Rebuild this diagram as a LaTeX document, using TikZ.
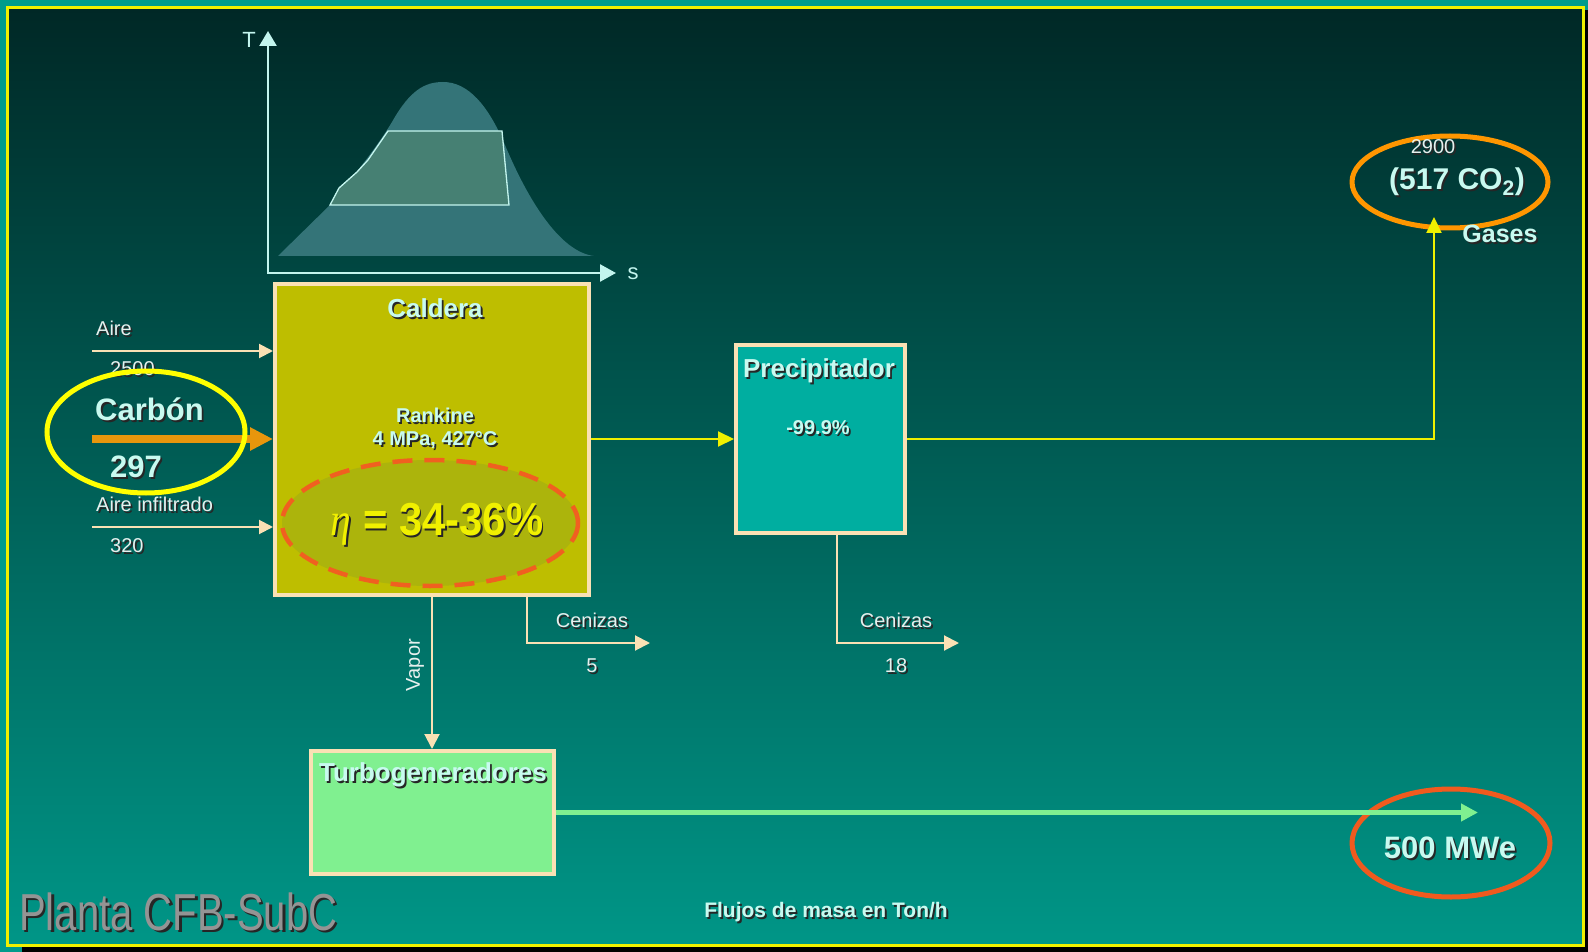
\documentclass[tikz,border=0pt]{standalone}
\usepackage{fontspec}
\setmainfont{Liberation Sans}
\newfontfamily\etafont{Liberation Serif}
\usepackage{tikz}
\usetikzlibrary{arrows.meta, positioning, shapes.geometric, calc}

\definecolor{frameteal}{RGB}{0,155,140}
\definecolor{bgtop}{RGB}{0,40,38}
\definecolor{bgbot}{RGB}{0,150,135}
\definecolor{borderyel}{RGB}{240,240,0}
\definecolor{cream}{RGB}{250,225,180}
\definecolor{caldfill}{RGB}{190,190,0}
\definecolor{efffill}{RGB}{172,180,12}
\definecolor{effdash}{RGB}{240,96,32}
\definecolor{precfill}{RGB}{0,174,160}
\definecolor{turbfill}{RGB}{128,240,144}
\definecolor{gasyel}{RGB}{240,240,0}
\definecolor{coalorange}{RGB}{232,150,12}
\definecolor{ringyel}{RGB}{255,255,0}
\definecolor{ringorange}{RGB}{255,150,0}
\definecolor{ringred}{RGB}{240,90,30}
\definecolor{titc}{RGB}{200,250,240}
\definecolor{lblc}{RGB}{230,240,238}
\definecolor{etac}{RGB}{240,240,0}
\definecolor{domefill}{RGB}{52,116,120}
\definecolor{cyclefill}{RGB}{70,128,115}
\definecolor{axisc}{RGB}{195,245,238}

% text with a dark drop shadow
\newcommand{\dropsh}[1]{\rlap{\raisebox{-1.8pt}{\hspace{1.8pt}\textcolor{black!85}{#1}}}#1}

\begin{document}
\begin{tikzpicture}[x=1pt, y=-1pt]
    % Styles
    \tikzstyle{plant} = [draw=cream, line width=4pt, inner sep=0pt]
    \tikzstyle{boxtitle} = [text=titc, inner sep=0pt, font=\fontsize{26}{30}\selectfont\bfseries]
    \tikzstyle{boxtext} = [text=titc, inner sep=0pt, font=\fontsize{20}{24}\selectfont\bfseries]
    \tikzstyle{lbl} = [text=lblc, inner sep=0pt, font=\fontsize{20}{24}\selectfont]
    \tikzstyle{feed} = [draw=cream, line width=2pt, -{Triangle[length=15pt,width=15pt]}]
    \tikzstyle{gasline} = [draw=gasyel, line width=2pt, -{Triangle[length=16pt,width=15pt]}]
    \tikzstyle{ring} = [line width=5pt]

    \useasboundingbox (0,0) rectangle (1588,952);

    % Frame and background
    \fill[frameteal] (0,0) rectangle (1588,952);
    \fill[black] (22,947) rectangle (1588,952);
    \fill[black] (1585,10) rectangle (1588,952);
    \shade[top color=bgtop, bottom color=bgbot] (7,8) rectangle (1583,945);
    \draw[borderyel, line width=3pt] (7,8) rectangle (1583,945);

    % T-s diagram
    \fill[domefill] (278,256) -- (330,205) .. controls (352,178) and (375,150) .. (392,122)
        .. controls (410,90) and (425,82) .. (443,82) .. controls (468,82) and (488,105) .. (505,145)
        .. controls (528,200) and (560,252) .. (594,256) -- cycle;
    \filldraw[fill=cyclefill, draw=axisc, line width=1.3pt]
        (330,205) -- (339,188) -- (357,172) -- (368,160) -- (388,131) -- (502,131) -- (509,205) -- cycle;
    \coordinate (origin) at (268,273);
    \coordinate (tmax) at (268,31);
    \coordinate (smax) at (616,273);
    \draw[axisc, line width=2.5pt, {Triangle[length=15pt,width=17pt]}-{Triangle[length=16pt,width=17pt]}]
        (tmax) -- (origin) -- (smax);
    \node[text=axisc, font=\fontsize{22}{26}\selectfont] (tlbl) at (249,40) {T};
    \node[text=axisc, font=\fontsize{22}{26}\selectfont] (slbl) at (633,274) {s};

    % Plant units
    \node[plant, fill=caldfill, minimum width=314pt, minimum height=311pt] (caldera) at (432,439) {};
    \node[plant, fill=precfill, minimum width=169pt, minimum height=188pt] (precip) at (820.5,439) {};
    \node[plant, fill=turbfill, minimum width=243pt, minimum height=123pt] (turbo) at (432,812.5) {};

    % Boiler contents
    \fill[efffill] (430,523) ellipse [x radius=148, y radius=63];
    \draw[effdash, line width=4.5pt, dash pattern=on 20pt off 12pt] (430,523) ellipse [x radius=148, y radius=63];
    \node[boxtitle] (calderaT) at (435,309) {\dropsh{Caldera}};
    \node[boxtext] (rankineT) at (435,416) {\dropsh{Rankine}};
    \node[boxtext] (rankineP) at (435,441) {\dropsh{4 MPa, 427°C}};
    \node[text=etac, inner sep=0pt, font=\fontsize{44}{50}\selectfont\bfseries] (etaT) at (437,525)
        {\scalebox{0.95}[1.05]{\dropsh{{\etafont\mdseries\itshape η} = 34-36\%}}};

    % Precipitator contents
    \node[boxtitle] (precipT) at (819,372) {\dropsh{Precipitador}};
    \node[boxtext] (precipV) at (818,429) {\dropsh{-99.9\%}};

    % Turbine contents
    \node[boxtitle] (turboT) at (433,776) {\dropsh{Turbogeneradores}};

    % Boiler inputs
    \coordinate (aireIn) at (92,351);
    \coordinate (carbonIn) at (92,439);
    \coordinate (infIn) at (92,527);
    \draw[feed, -{Triangle[length=14pt,width=14pt]}] (aireIn) -- (aireIn -| caldera.west);
    \draw[feed, -{Triangle[length=14pt,width=14pt]}] (infIn) -- (infIn -| caldera.west);
    \draw[coalorange, line width=8pt, -{Triangle[length=23pt,width=22pt]}] (carbonIn) -- (carbonIn -| caldera.west);
    \node[lbl, anchor=west] (aireT) at (96,329) {\dropsh{Aire}};
    \node[lbl, anchor=west] (aireV) at (110,370) {\dropsh{2500}};
    \node[lbl, anchor=west] (infT) at (96,505) {\dropsh{Aire infiltrado}};
    \node[lbl, anchor=west] (infV) at (110,547) {\dropsh{320}};
    \node[text=titc, inner sep=0pt, anchor=west, font=\fontsize{31}{36}\selectfont\bfseries] (carbonT) at (95,410) {\dropsh{Carbón}};
    \node[text=titc, inner sep=0pt, anchor=west, font=\fontsize{31}{36}\selectfont\bfseries] (carbonV) at (110,468) {\dropsh{297}};
    \draw[ringyel, ring] (146,432) ellipse [x radius=99, y radius=61];

    % Flue gas
    \coordinate (co2In) at (1434,217);
    \draw[gasline] (caldera) -- (precip);
    \draw[ringorange, ring] (1450,182) ellipse [x radius=98, y radius=46];
    \draw[gasline] (precip) -| (co2In);
    \node[lbl] (gasV) at (1433,148) {\dropsh{2900}};
    \node[text=titc, inner sep=0pt, font=\fontsize{30}{36}\selectfont\bfseries] (co2T) at (1457,183) {\dropsh{(517 CO\textsubscript{2})}};
    \node[text=titc, inner sep=0pt, font=\fontsize{25}{30}\selectfont\bfseries] (gasesT) at (1500,235) {\dropsh{Gases}};

    % Ashes
    \coordinate (ash1) at (650,643);
    \coordinate (ash2) at (959,643);
    \draw[feed] ([xshift=95pt]caldera.south) |- (ash1);
    \draw[feed] ([xshift=16pt]precip.south) |- (ash2);
    \node[lbl] (ash1T) at (592,621) {\dropsh{Cenizas}};
    \node[lbl] (ash1V) at (592,667) {\dropsh{5}};
    \node[lbl] (ash2T) at (896,621) {\dropsh{Cenizas}};
    \node[lbl] (ash2V) at (896,667) {\dropsh{18}};

    % Steam and power
    \draw[feed] (caldera) -- (turbo)
        node[lbl, pos=0.45, anchor=south, rotate=90, inner sep=7pt] (vaporT) {Vapor};
    \coordinate (mweIn) at (1478,812.5);
    \draw[ringred, ring] (1451,843) ellipse [x radius=99, y radius=54];
    \draw[turbfill, line width=5pt, -{Triangle[length=17pt,width=17pt]}] (turbo) -- (mweIn);
    \node[text=titc, inner sep=0pt, font=\fontsize{31}{36}\selectfont\bfseries] (mweT) at (1450,849) {\dropsh{500 MWe}};

    % Footer
    \node[text=black!42, inner sep=0pt, anchor=west, font=\fontsize{52}{58}\selectfont] (plantT) at (19,913)
        {\scalebox{0.77}[1]{\rlap{\raisebox{-2.5pt}{\hspace{3pt}\textcolor{black!85}{Planta CFB-SubC}}}Planta CFB-SubC}};
    \node[text=titc, inner sep=0pt, font=\fontsize{21}{25}\selectfont\bfseries] (flowT) at (826,913) {\dropsh{Flujos de masa en Ton/h}};
\end{tikzpicture}
\end{document}
